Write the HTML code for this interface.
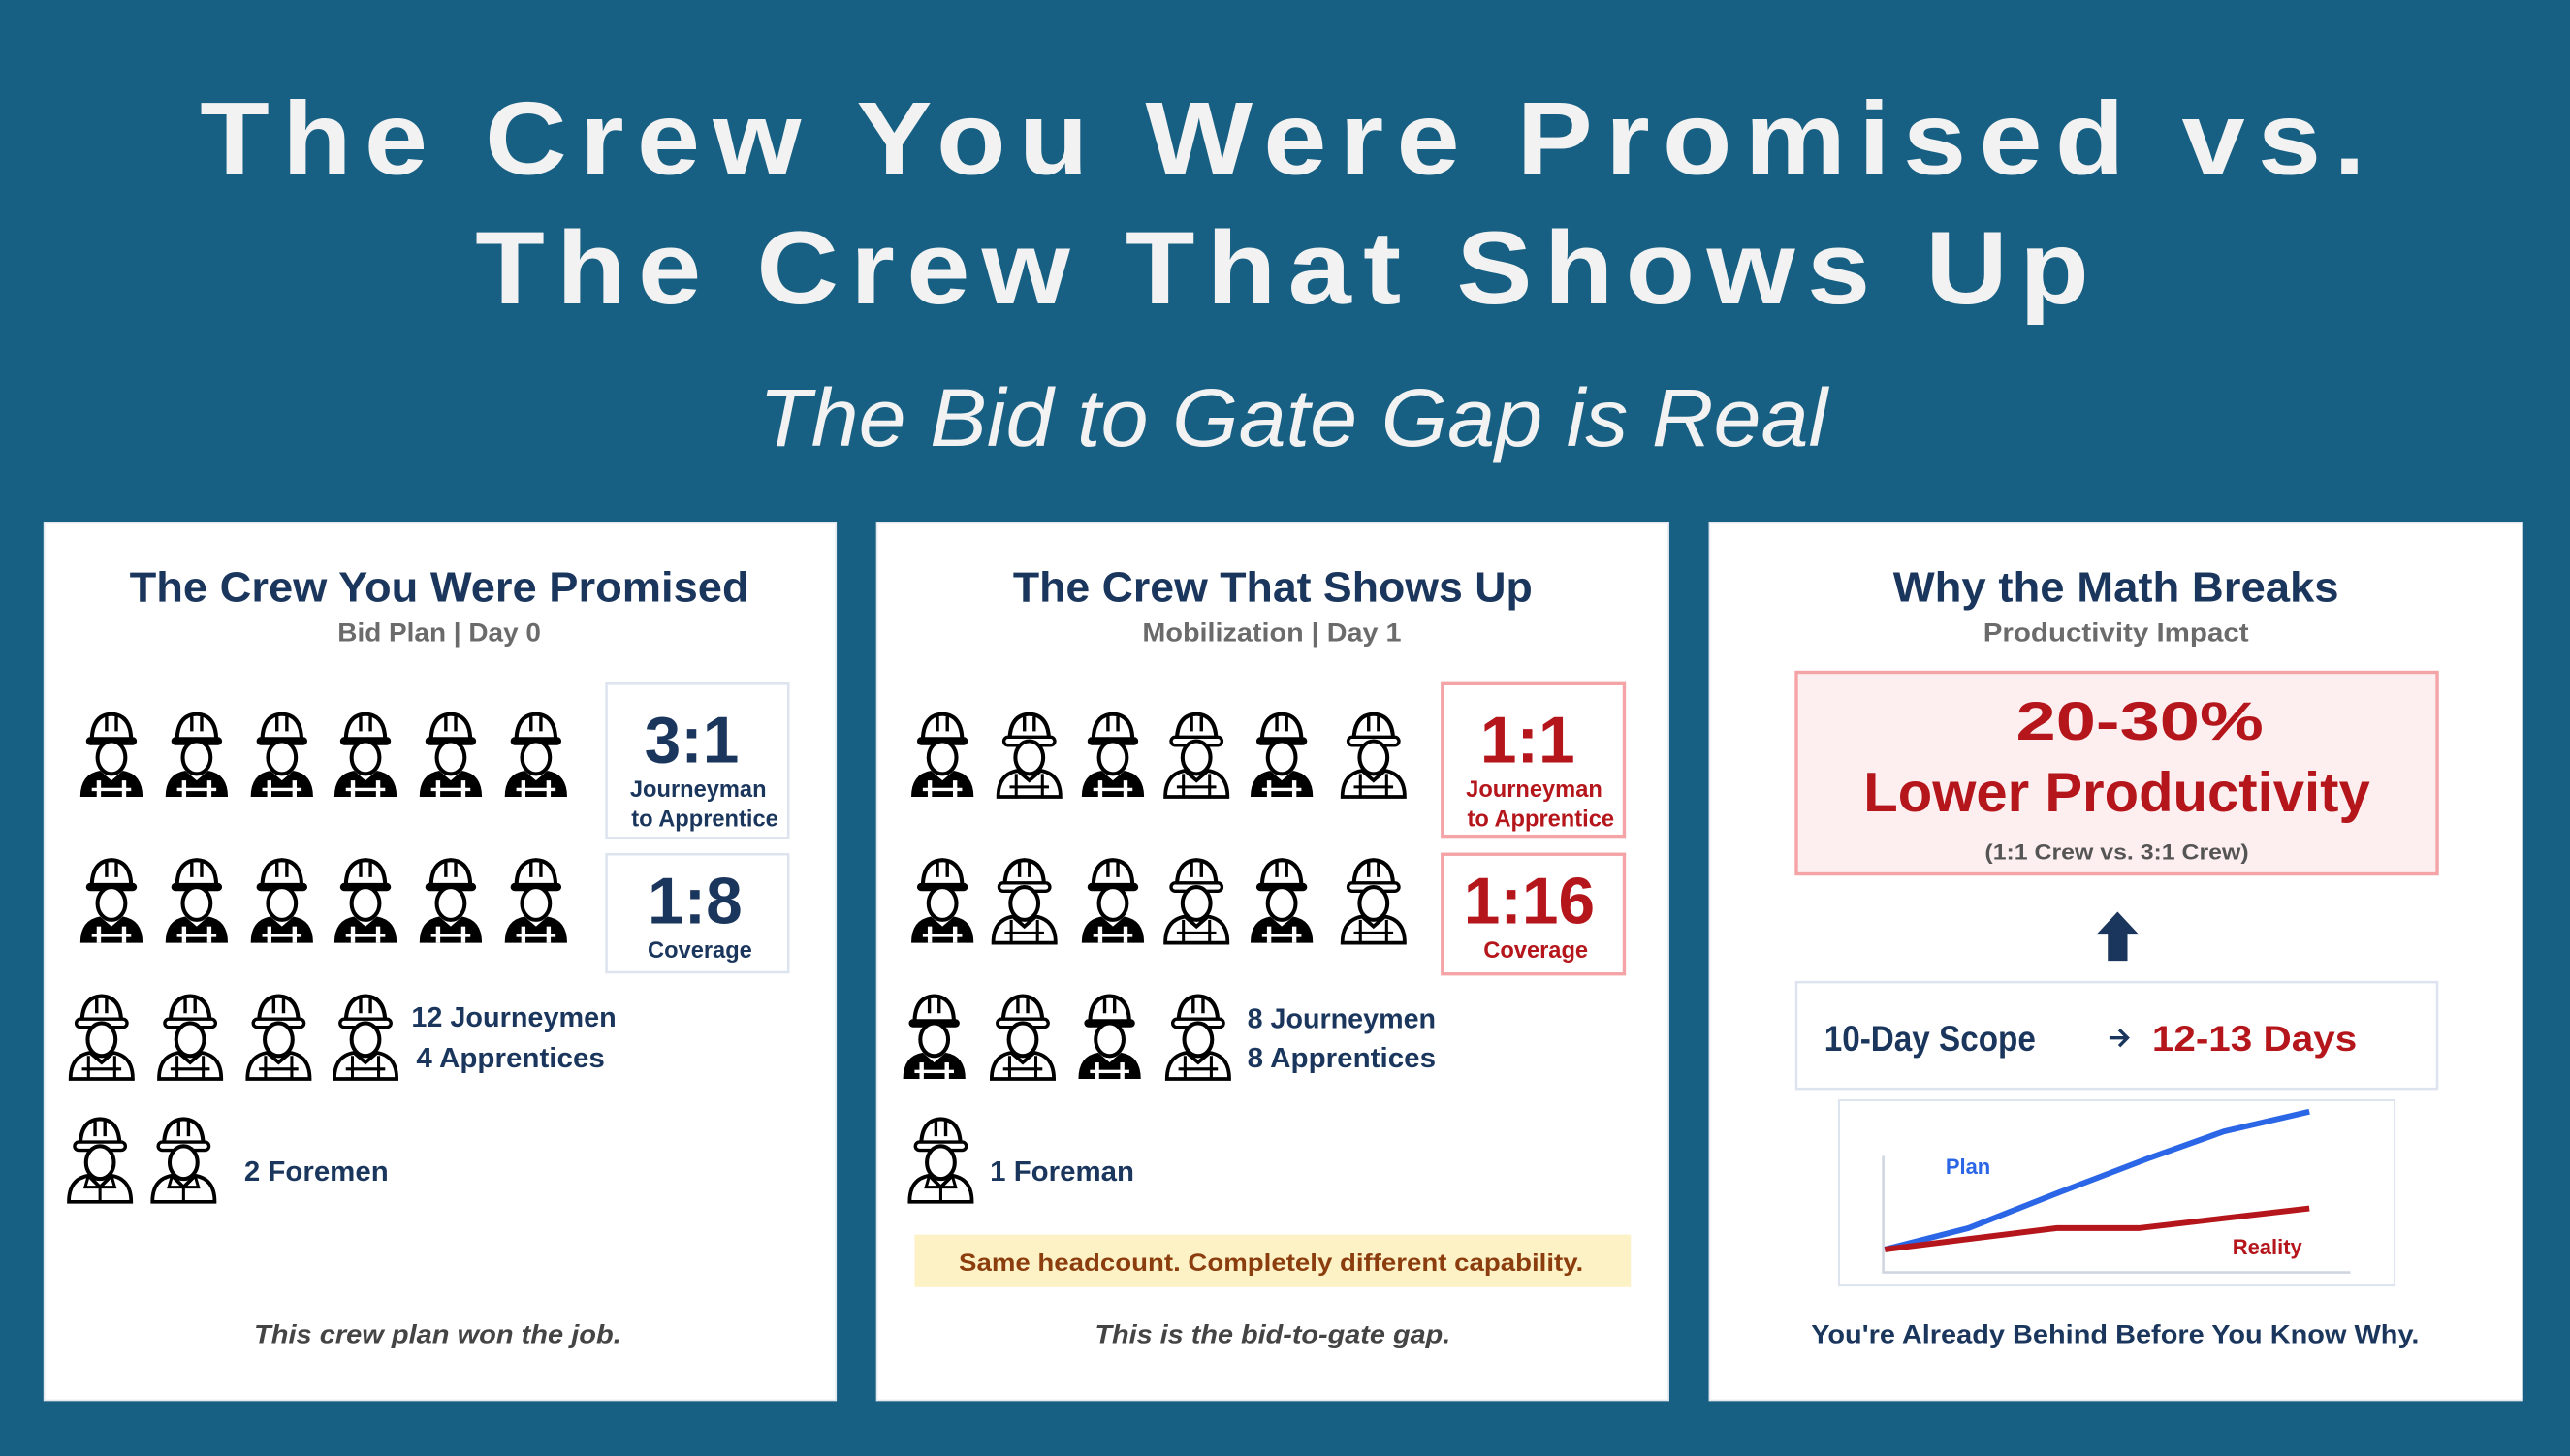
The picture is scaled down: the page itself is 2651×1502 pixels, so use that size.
<!DOCTYPE html>
<html><head><meta charset="utf-8"><style>
html,body{margin:0;padding:0;background:#186083;}
svg{display:block}
text{font-family:"Liberation Sans","DejaVu Sans",sans-serif;}
</style></head><body>
<svg width="2651" height="1502" viewBox="0 0 1568 888" preserveAspectRatio="none" xmlns="http://www.w3.org/2000/svg">
<defs>
<g id="wf">
<path d="M8 17 Q8 1 20 0.5 Q32 1 32 17 Z" fill="#fff" stroke="#000" stroke-width="2.4"/>
<path d="M17 2 V11 M23 2 V11" stroke="#000" stroke-width="2"/>
<rect x="4.5" y="14.5" width="31" height="5" rx="2.5" fill="#000"/>
<path d="M1 51 Q1 37 13 35 L20 41 L27 35 Q39 37 39 51 Z" fill="#000"/>
<ellipse cx="20" cy="27" rx="8.5" ry="10" fill="#fff" stroke="#000" stroke-width="2.4"/>
<rect x="11" y="41" width="2.6" height="10" fill="#fff"/><rect x="26.4" y="41" width="2.6" height="10" fill="#fff"/>
<rect x="8" y="45.5" width="24" height="2" fill="#fff"/>
</g>
<g id="wo">
<path d="M8 17 Q8 1 20 0.5 Q32 1 32 17 Z" fill="#fff" stroke="#000" stroke-width="2.4"/>
<path d="M17 2 V11 M23 2 V11" stroke="#000" stroke-width="2"/>
<rect x="4.5" y="14.5" width="31" height="5" rx="2.5" fill="#fff" stroke="#000" stroke-width="2"/>
<path d="M1 51 Q1 37 13 35 L20 41 L27 35 Q39 37 39 51 Z" fill="#fff" stroke="#000" stroke-width="2.2"/>
<ellipse cx="20" cy="27" rx="8.5" ry="10" fill="#fff" stroke="#000" stroke-width="2.4"/>
<path d="M12 37 V51 M28 37 V51 M8 45 H32" stroke="#000" stroke-width="1.8" fill="none"/>
</g>
<g id="fm">
<path d="M8 17 Q8 1 20 0.5 Q32 1 32 17 Z" fill="#fff" stroke="#000" stroke-width="2.4"/>
<path d="M17 2 V11 M23 2 V11" stroke="#000" stroke-width="2"/>
<rect x="4.5" y="14.5" width="31" height="5" rx="2.5" fill="#fff" stroke="#000" stroke-width="2"/>
<path d="M1 51 Q1 37 13 35 L20 42 L27 35 Q39 37 39 51 Z" fill="#fff" stroke="#000" stroke-width="2.2"/>
<ellipse cx="20" cy="27" rx="8.5" ry="10" fill="#fff" stroke="#000" stroke-width="2.4"/>
<path d="M13 35 L11 42 L20 42 L29 42 L27 35 M20 42 V51" stroke="#000" stroke-width="1.8" fill="none"/>
</g>
</defs>
<rect width="1568" height="888" fill="#186083"/>
<g fill="#f2f2f2" font-weight="bold" font-size="63">
<text transform="translate(122,106) scale(1.1,1)" x="0" y="0" textLength="1201" lengthAdjust="spacing">The Crew You Were Promised vs.</text>
<text transform="translate(290,185) scale(1.1,1)" x="0" y="0" textLength="895" lengthAdjust="spacing">The Crew That Shows Up</text>
</g>
<text x="463" y="272" font-size="50" font-style="italic" fill="#f2f2f2" textLength="652" lengthAdjust="spacingAndGlyphs">The Bid to Gate Gap is Real</text>

<rect x="27" y="319" width="483" height="535" fill="#fff" stroke="#e3e8ef"/>
<rect x="535" y="319" width="483" height="535" fill="#fff" stroke="#e3e8ef"/>
<rect x="1043" y="319" width="496" height="535" fill="#fff" stroke="#e3e8ef"/>

<text x="79" y="367" font-size="26" font-weight="bold" fill="#1b365d" textLength="378" lengthAdjust="spacingAndGlyphs">The Crew You Were Promised</text>
<text x="206" y="391" font-size="16" font-weight="bold" fill="#6b6b6b" textLength="124" lengthAdjust="spacingAndGlyphs">Bid Plan | Day 0</text>
<g>
<use href="#wf" transform="translate(48,435)"/><use href="#wf" transform="translate(100,435)"/><use href="#wf" transform="translate(152,435)"/><use href="#wf" transform="translate(203,435)"/><use href="#wf" transform="translate(255,435)"/><use href="#wf" transform="translate(307,435)"/>
<use href="#wf" transform="translate(48,524)"/><use href="#wf" transform="translate(100,524)"/><use href="#wf" transform="translate(152,524)"/><use href="#wf" transform="translate(203,524)"/><use href="#wf" transform="translate(255,524)"/><use href="#wf" transform="translate(307,524)"/>
<use href="#wo" transform="translate(42,607)"/><use href="#wo" transform="translate(96,607)"/><use href="#wo" transform="translate(150,607)"/><use href="#wo" transform="translate(203,607)"/>
<use href="#fm" transform="translate(41,682)"/><use href="#fm" transform="translate(92,682)"/>
</g>
<rect x="370" y="417" width="111" height="94" fill="#fff" stroke="#dde4ef" stroke-width="1.5"/>
<rect x="370" y="521" width="111" height="72" fill="#fff" stroke="#dde4ef" stroke-width="1.5"/>
<g fill="#1b365d" font-weight="bold" text-anchor="middle">
<text x="422" y="465" font-size="40">3:1</text>
<text x="426" y="486" font-size="14">Journeyman</text>
<text x="430" y="504" font-size="14">to Apprentice</text>
<text x="424" y="563" font-size="40">1:8</text>
<text x="427" y="584" font-size="14">Coverage</text>
</g>
<g fill="#1b365d" font-weight="bold" font-size="17">
<text x="251" y="626" textLength="125" lengthAdjust="spacingAndGlyphs">12 Journeymen</text>
<text x="254" y="651" textLength="115" lengthAdjust="spacingAndGlyphs">4 Apprentices</text>
<text x="149" y="720" textLength="88" lengthAdjust="spacingAndGlyphs">2 Foremen</text>
</g>
<text x="155" y="819" font-size="16" font-weight="bold" font-style="italic" fill="#444" textLength="224" lengthAdjust="spacingAndGlyphs">This crew plan won the job.</text>

<text x="618" y="367" font-size="26" font-weight="bold" fill="#1b365d" textLength="317" lengthAdjust="spacingAndGlyphs">The Crew That Shows Up</text>
<text x="697" y="391" font-size="16" font-weight="bold" fill="#6b6b6b" textLength="158" lengthAdjust="spacingAndGlyphs">Mobilization | Day 1</text>
<g>
<use href="#wf" transform="translate(555,435)"/><use href="#wo" transform="translate(608,435)"/><use href="#wf" transform="translate(659,435)"/><use href="#wo" transform="translate(710,435)"/><use href="#wf" transform="translate(762,435)"/><use href="#wo" transform="translate(818,435)"/>
<use href="#wf" transform="translate(555,524)"/><use href="#wo" transform="translate(605,524)"/><use href="#wf" transform="translate(659,524)"/><use href="#wo" transform="translate(710,524)"/><use href="#wf" transform="translate(762,524)"/><use href="#wo" transform="translate(818,524)"/>
<use href="#wf" transform="translate(550,607)"/><use href="#wo" transform="translate(604,607)"/><use href="#wf" transform="translate(657,607)"/><use href="#wo" transform="translate(711,607)"/>
<use href="#fm" transform="translate(554,682)"/>
</g>
<rect x="880" y="417" width="111" height="93" fill="#fff" stroke="#f4a3a6" stroke-width="2"/>
<rect x="880" y="521" width="111" height="73" fill="#fff" stroke="#f4a3a6" stroke-width="2"/>
<g fill="#b5161b" font-weight="bold" text-anchor="middle">
<text x="932" y="465" font-size="40">1:1</text>
<text x="936" y="486" font-size="14">Journeyman</text>
<text x="940" y="504" font-size="14">to Apprentice</text>
<text x="933" y="563" font-size="40">1:16</text>
<text x="937" y="584" font-size="14">Coverage</text>
</g>
<g fill="#1b365d" font-weight="bold" font-size="17">
<text x="761" y="627" textLength="115" lengthAdjust="spacingAndGlyphs">8 Journeymen</text>
<text x="761" y="651" textLength="115" lengthAdjust="spacingAndGlyphs">8 Apprentices</text>
<text x="604" y="720" textLength="88" lengthAdjust="spacingAndGlyphs">1 Foreman</text>
</g>
<rect x="558" y="753" width="437" height="32" fill="#fdf1c6"/>
<text x="585" y="775" font-size="15" font-weight="bold" fill="#8b3d0e" textLength="381" lengthAdjust="spacingAndGlyphs">Same headcount. Completely different capability.</text>
<text x="668" y="819" font-size="16" font-weight="bold" font-style="italic" fill="#444" textLength="217" lengthAdjust="spacingAndGlyphs">This is the bid-to-gate gap.</text>

<text x="1155" y="367" font-size="26" font-weight="bold" fill="#1b365d" textLength="272" lengthAdjust="spacingAndGlyphs">Why the Math Breaks</text>
<text x="1210" y="391" font-size="16" font-weight="bold" fill="#6b6b6b" textLength="162" lengthAdjust="spacingAndGlyphs">Productivity Impact</text>
<rect x="1096" y="410" width="391" height="123" fill="#fdeff0" stroke="#f4a3a6" stroke-width="2"/>
<g fill="#b5161b" font-weight="bold">
<text x="1230" y="451" font-size="33" textLength="151" lengthAdjust="spacingAndGlyphs">20-30%</text>
<text x="1137" y="495" font-size="34" textLength="309" lengthAdjust="spacingAndGlyphs">Lower Productivity</text>
</g>
<text x="1211" y="524" font-size="13" font-weight="bold" fill="#555" textLength="161" lengthAdjust="spacingAndGlyphs">(1:1 Crew vs. 3:1 Crew)</text>
<path d="M1292 556 L1305 570 L1298 570 L1298 586 L1286 586 L1286 570 L1279 570 Z" fill="#1b365d"/>
<rect x="1096" y="599" width="391" height="65" fill="#fff" stroke="#dde4ef" stroke-width="1.5"/>
<text x="1113" y="641" font-size="22" font-weight="bold" fill="#1b365d" textLength="129" lengthAdjust="spacingAndGlyphs">10-Day Scope</text>
<path d="M1287 633 H1298 M1293 628 L1298 633 L1293 638" stroke="#1b365d" stroke-width="2" fill="none"/>
<text x="1313" y="641" font-size="22" font-weight="bold" fill="#b5161b" textLength="125" lengthAdjust="spacingAndGlyphs">12-13 Days</text>
<rect x="1122" y="671" width="339" height="113" fill="#fff" stroke="#dde4ef" stroke-width="1.2"/>
<path d="M1149 705 V776 H1434" stroke="#cfd6e0" stroke-width="1.5" fill="none"/>
<polyline points="1150,762 1201,749 1257,727 1312,706 1357,690 1409,678" fill="none" stroke="#2a66e6" stroke-width="3.5"/>
<polyline points="1150,762 1255,749 1305,749 1357,743 1409,737" fill="none" stroke="#b5161b" stroke-width="3.5"/>
<text x="1187" y="716" font-size="13" font-weight="bold" fill="#2a66e6">Plan</text>
<text x="1362" y="765" font-size="13" font-weight="bold" fill="#b5161b">Reality</text>
<text x="1105" y="819" font-size="16" font-weight="bold" fill="#1b365d" textLength="371" lengthAdjust="spacingAndGlyphs">You're Already Behind Before You Know Why.</text>
</svg>
</body></html>
